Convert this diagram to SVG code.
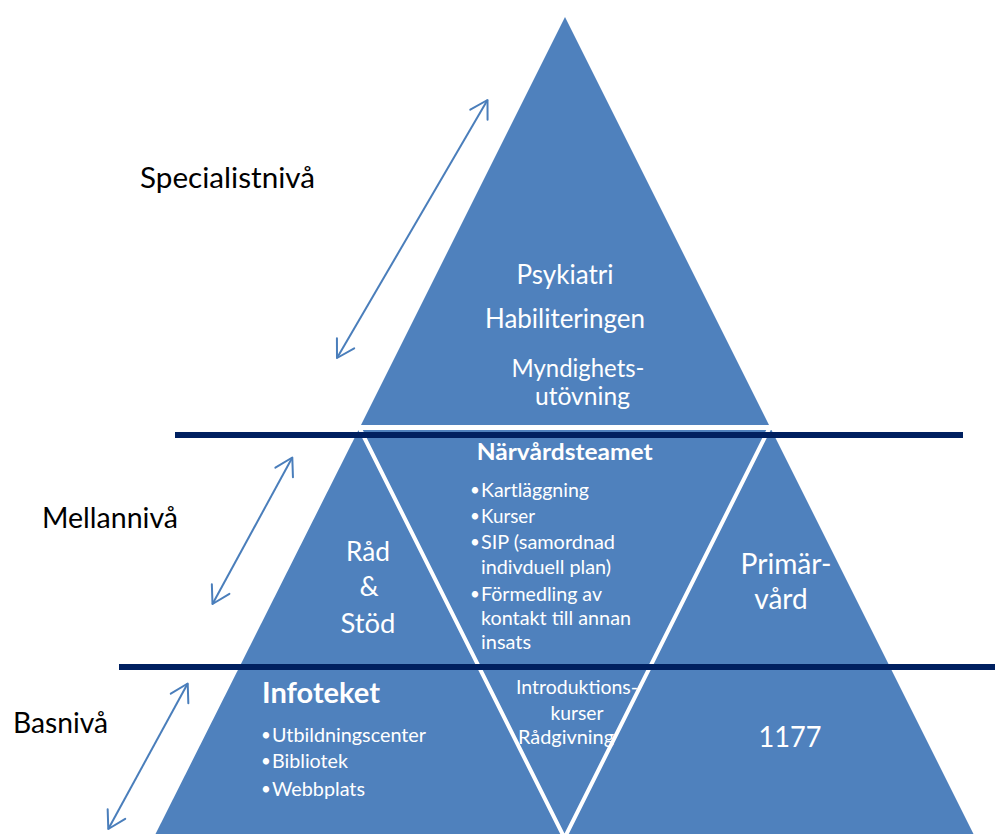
<svg xmlns="http://www.w3.org/2000/svg" width="995" height="834" viewBox="0 0 995 834">
<style>
  .shape { fill: #4F81BD; }
  .sep { fill: none; stroke: #FFFFFF; stroke-width: 4; }
  .level-line { stroke: #002060; stroke-width: 6; }
  .arrow { stroke: #4A7EBB; stroke-width: 2; fill: none; marker-start: url(#head); marker-end: url(#head); }
  .lbl { font-family: Lato, "Open Sans", "Liberation Sans", sans-serif; fill: #000000; font-size: 29.5px; }
  .w { font-family: Lato, "Open Sans", "Liberation Sans", sans-serif; fill: #FFFFFF; }
  .c { text-anchor: middle; }
  .b { font-weight: bold; }
  .dot { font-size: 17px; }
</style>
<defs>
  <marker id="head" markerUnits="userSpaceOnUse" orient="auto-start-reverse" refX="0" refY="0" markerWidth="40" markerHeight="40" viewBox="-20 -20 40 40" overflow="visible">
    <path d="M-17,-10 L0,0 L-17,10" fill="none" stroke="#4A7EBB" stroke-width="2" stroke-linecap="round" stroke-linejoin="round"/>
  </marker>
</defs>
<rect width="995" height="834" fill="#FFFFFF"/>

<g id="shapes">
  <polygon class="shape" points="565,17 361,425 769,425"/>
  <polygon class="shape" points="358.5,430 771.5,430 977,841 152,841"/>
  <path class="sep" d="M359.5,428 L564.5,838 L769.5,428"/>
</g>

<g id="level-lines">
  <line class="level-line" x1="175" y1="435" x2="963" y2="435"/>
  <line class="level-line" x1="119" y1="667" x2="995" y2="667"/>
</g>

<g id="level-labels">
  <text class="lbl" x="140" y="188" textLength="175" lengthAdjust="spacingAndGlyphs">Specialistnivå</text>
  <text class="lbl" x="42" y="528" textLength="136" lengthAdjust="spacingAndGlyphs">Mellannivå</text>
  <text class="lbl" x="13" y="733" textLength="95" lengthAdjust="spacingAndGlyphs">Basnivå</text>
</g>

<g id="node-specialist">
  <text class="w c" x="565" y="284" font-size="26" textLength="97" lengthAdjust="spacingAndGlyphs">Psykiatri</text>
  <text class="w c" x="565" y="328" font-size="26" textLength="160" lengthAdjust="spacingAndGlyphs">Habiliteringen</text>
  <text class="w c" x="578" y="377" font-size="25" textLength="133" lengthAdjust="spacingAndGlyphs">Myndighets-</text>
  <text class="w c" x="582.5" y="405" font-size="25" textLength="95" lengthAdjust="spacingAndGlyphs">utövning</text>
</g>

<g id="node-rad-stod">
  <text class="w c" x="368" y="561" font-size="27" textLength="44" lengthAdjust="spacingAndGlyphs">Råd</text>
  <text class="w c" x="369" y="596" font-size="27">&amp;</text>
  <text class="w c" x="368" y="633" font-size="27" textLength="55" lengthAdjust="spacingAndGlyphs">Stöd</text>
</g>

<g id="node-narvardsteamet">
  <text class="w c b" x="564.7" y="460" font-size="23" textLength="176" lengthAdjust="spacingAndGlyphs">Närvårdsteamet</text>
  <g font-size="19">
    <text class="w dot" x="470" y="496">•</text>
    <text class="w" x="481" y="497" textLength="108" lengthAdjust="spacingAndGlyphs">Kartläggning</text>
    <text class="w dot" x="470" y="522">•</text>
    <text class="w" x="481" y="523" textLength="54" lengthAdjust="spacingAndGlyphs">Kurser</text>
    <text class="w dot" x="470" y="548">•</text>
    <text class="w" x="481" y="549" textLength="134" lengthAdjust="spacingAndGlyphs">SIP (samordnad</text>
    <text class="w" x="481" y="574" textLength="130" lengthAdjust="spacingAndGlyphs">indivduell plan)</text>
    <text class="w dot" x="470" y="600">•</text>
    <text class="w" x="481" y="601" textLength="121" lengthAdjust="spacingAndGlyphs">Förmedling av</text>
    <text class="w" x="481" y="625" textLength="150" lengthAdjust="spacingAndGlyphs">kontakt till annan</text>
    <text class="w" x="481" y="649" textLength="50" lengthAdjust="spacingAndGlyphs">insats</text>
  </g>
</g>

<g id="node-primarvard">
  <text class="w c" x="786" y="574" font-size="28" textLength="91" lengthAdjust="spacingAndGlyphs">Primär-</text>
  <text class="w c" x="781" y="609" font-size="28">vård</text>
</g>

<g id="node-infoteket">
  <text class="w b" x="262" y="703" font-size="28" textLength="118" lengthAdjust="spacingAndGlyphs">Infoteket</text>
  <g font-size="20">
    <text class="w dot" x="261" y="741">•</text>
    <text class="w" x="272" y="742" textLength="154" lengthAdjust="spacingAndGlyphs">Utbildningscenter</text>
    <text class="w dot" x="261" y="767">•</text>
    <text class="w" x="272" y="768" textLength="76" lengthAdjust="spacingAndGlyphs">Bibliotek</text>
    <text class="w dot" x="261" y="795">•</text>
    <text class="w" x="272" y="796" textLength="93" lengthAdjust="spacingAndGlyphs">Webbplats</text>
  </g>
</g>

<g id="node-introduktion">
  <text class="w c" x="577" y="694" font-size="20" textLength="122" lengthAdjust="spacingAndGlyphs">Introduktions-</text>
  <text class="w c" x="577" y="720" font-size="20" textLength="53" lengthAdjust="spacingAndGlyphs">kurser</text>
  <text class="w c" x="566" y="744" font-size="20" textLength="96" lengthAdjust="spacingAndGlyphs">Rådgivning</text>
</g>

<g id="node-1177">
  <text class="w c" x="790" y="747" font-size="29" textLength="63" lengthAdjust="spacingAndGlyphs">1177</text>
</g>

<g id="connectors">
  <line class="arrow" x1="337" y1="358" x2="487.5" y2="100"/>
  <line class="arrow" x1="212.5" y1="604" x2="292.3" y2="457.5"/>
  <line class="arrow" x1="108.3" y1="829" x2="187.7" y2="683.5"/>
</g>
</svg>
